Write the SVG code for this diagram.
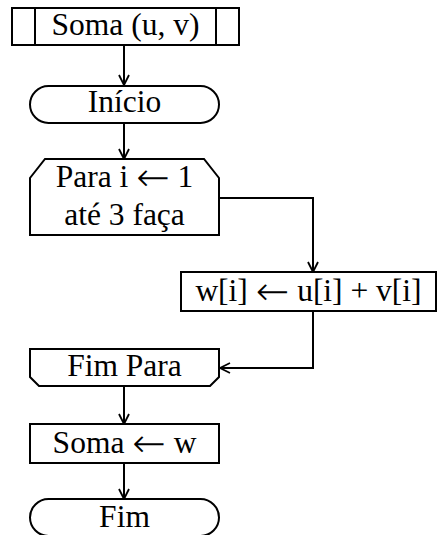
<svg xmlns="http://www.w3.org/2000/svg" width="438" height="535" viewBox="0 0 438 535">
  <style>
    .shape { fill: #fff; stroke: #000; stroke-width: 2; }
    .line { fill: none; stroke: #000; stroke-width: 2; }
    text { font-family: "Liberation Serif", "Times New Roman", serif; font-size: 31.5px; fill: #000; text-anchor: middle; }
    .arr { font-family: "DejaVu Sans ExtraLight", "DejaVu Sans", sans-serif; font-weight: 200; font-size: 40px; }
  </style>
  <defs>
    <marker id="arrow" viewBox="0 0 12 12" refX="11" refY="6" markerWidth="12" markerHeight="12" markerUnits="userSpaceOnUse" orient="auto">
      <path d="M1,1 L11,6 L1,11" fill="none" stroke="#000" stroke-width="1.8"/>
    </marker>
  </defs>

  <g id="connectors">
    <line class="line" x1="124" y1="45" x2="124" y2="85" marker-end="url(#arrow)"/>
    <line class="line" x1="124" y1="123" x2="124" y2="159" marker-end="url(#arrow)"/>
    <polyline class="line" points="219,198 313,198 313,272" marker-end="url(#arrow)"/>
    <polyline class="line" points="313,311 313,368 220,368" marker-end="url(#arrow)"/>
    <line class="line" x1="124" y1="386" x2="124" y2="424" marker-end="url(#arrow)"/>
    <line class="line" x1="124" y1="463" x2="124" y2="499" marker-end="url(#arrow)"/>
  </g>

  <g id="soma-uv">
    <rect class="shape" x="12" y="8" width="227" height="37"/>
    <line class="line" x1="35" y1="8" x2="35" y2="45"/>
    <line class="line" x1="216" y1="8" x2="216" y2="45"/>
    <text x="125.5" y="35">Soma (u, v)</text>
  </g>

  <g id="inicio">
    <rect class="shape" x="30" y="86" width="189" height="37" rx="18.5" ry="18.5"/>
    <text x="124.5" y="112">Início</text>
  </g>

  <g id="para">
    <path class="shape" d="M45,159 L204,159 L219,178 L219,235 L30,235 L30,178 Z"/>
    <text x="124.5" y="187">Para i <tspan class="arr" dy="4">←</tspan><tspan dy="-4"> 1</tspan></text>
    <text x="124.5" y="225">até 3 faça</text>
  </g>

  <g id="atribui-w">
    <rect class="shape" x="181" y="272" width="255" height="39"/>
    <text x="308.5" y="301">w[i] <tspan class="arr" dy="4">←</tspan><tspan dy="-4"> u[i] + v[i]</tspan></text>
  </g>

  <g id="fim-para">
    <path class="shape" d="M30,349 L219,349 L219,377 L210,386 L39,386 L30,377 Z"/>
    <text x="124.5" y="376">Fim Para</text>
  </g>

  <g id="soma-w">
    <rect class="shape" x="30" y="424" width="189" height="39"/>
    <text x="124.5" y="453">Soma <tspan class="arr" dy="4">←</tspan><tspan dy="-4"> w</tspan></text>
  </g>

  <g id="fim">
    <rect class="shape" x="30" y="499" width="189" height="37" rx="18.5" ry="18.5"/>
    <text x="124.5" y="527">Fim</text>
  </g>
</svg>
